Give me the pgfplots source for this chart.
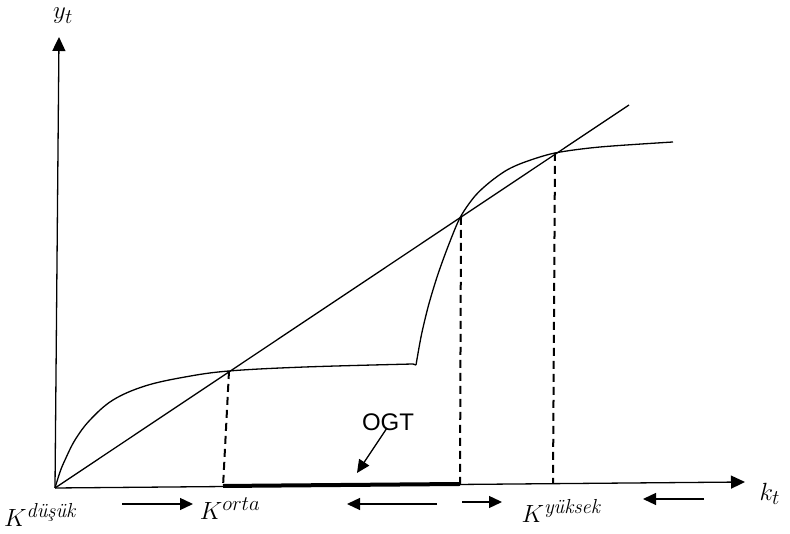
\documentclass[border=0pt]{standalone}
\usepackage{pgfplots}
\pgfplotsset{compat=1.18}
\usepackage{amsmath}
\usepackage{fontspec}
\newfontfamily\sansf{Liberation Sans}
\usetikzlibrary{arrows.meta}
\begin{document}
\begin{tikzpicture}
\begin{axis}[
  width=790pt, height=534pt, scale only axis,
  xmin=-55, xmax=735, ymin=-46, ymax=488,
  hide axis, clip=false,
  cycle list={{black}},
  every axis plot/.append style={no markers},
]
% frame for bounding box
\path (axis cs:-55,-46) rectangle (axis cs:735,488);
% axes
\addplot[black, line width=1.3pt, -{Triangle[length=14pt,width=13pt]}] coordinates {(0,0) (690,6)};
\addplot[black, line width=1.3pt, -{Triangle[length=14pt,width=13pt]}] coordinates {(0,0) (4,451)};
% line through origin
\addplot[black, line width=1.3pt] coordinates {(0,0) (574,383)};
% production curve, low part
\addplot[black, line width=1.3pt, smooth, tension=0.6] coordinates {(0,0) (5,16) (10,28) (20,48) (35,68) (58,88) (90,102) (130,111) (174,117) (250,121) (358,124)};
% jump and high part
\addplot[black, line width=1.3pt] coordinates {(358,124) (361,123)};
\addplot[black, line width=1.3pt, smooth, tension=0.5] coordinates {(361,123) (366.4,153) (373.6,183) (382.7,213) (393.6,243) (405.4,271) (420,292) (435,306) (452,318) (470,326) (500,335) (545,341) (618,346)};
% dashed drops
\addplot[black, dash pattern=on 8pt off 5pt, line width=2pt] coordinates {(174,117) (168,1)};
\addplot[black, dash pattern=on 8pt off 5pt, line width=2pt] coordinates {(406,271) (405,4)};
\addplot[black, dash pattern=on 8pt off 5pt, line width=2pt] coordinates {(500,335) (498,5)};
% OGT thick segment
\addplot[black, line width=4pt] coordinates {(168,2) (405,4)};
% direction arrows
\addplot[black, line width=1.3pt, -{Triangle[length=13pt,width=12pt]}] coordinates {(67,-16) (138,-16)};
\addplot[black, line width=1.3pt, -{Triangle[length=13pt,width=12pt]}] coordinates {(382,-16) (292,-16)};
\addplot[black, line width=1.3pt, -{Triangle[length=13pt,width=12pt]}] coordinates {(407,-14) (447,-14)};
\addplot[black, line width=1.3pt, -{Triangle[length=13pt,width=12pt]}] coordinates {(649,-11) (588,-11)};
\addplot[black, line width=1.3pt, -{Triangle[length=13pt,width=12pt]}] coordinates {(332,60) (302,15)};
% labels
\node[font=\fontsize{29}{33}\selectfont] at (axis cs:8,472) {$y_t$};
\node[font=\fontsize{29}{33}\selectfont] at (axis cs:-15,-27) {$K^{\text{\itshape düşük}}$};
\node[font=\fontsize{29}{33}\selectfont] at (axis cs:175,-21) {$K^{orta}$};
\node[font=\fontsize{29}{33}\selectfont] at (axis cs:506,-23) {$K^{\text{\itshape yüksek}}$};
\node[font=\fontsize{30}{34}\selectfont, anchor=west, overlay] at (axis cs:701,-6) {$k_t$};
\node[font=\sansf\fontsize{24}{28}\selectfont] at (axis cs:333,66) {OGT};
\end{axis}
\end{tikzpicture}
\end{document}
